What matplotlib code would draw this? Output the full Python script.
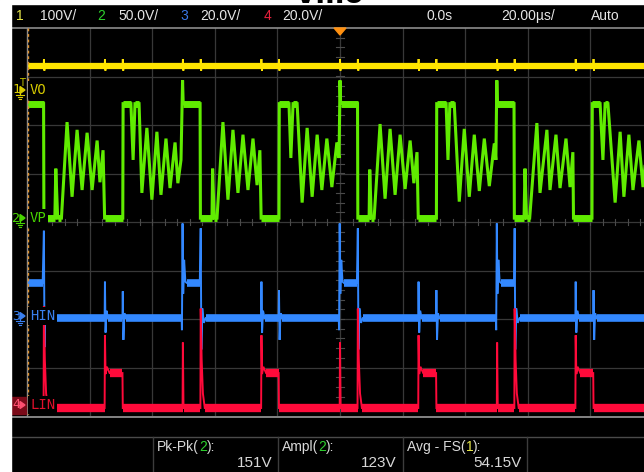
import matplotlib
matplotlib.use("Agg")
import matplotlib.pyplot as plt
from matplotlib.patches import Rectangle, Polygon
from matplotlib.lines import Line2D
import numpy as np

W, H = 644, 472

# ---- channel setup -------------------------------------------------------
ch_labels = ["VO", "VP", "HIN", "LIN"]
ch_scale = [100.0, 50.0, 20.0, 20.0]          # volts per division
ch_ground = [2.68, 0.08, -1.98, -3.835]       # ground level, divisions from centre
ch_color = ["#ffe500", "#60ec00", "#3388ff", "#ff0a3a"]

# ---- header / measurements -------------------------------------------------
hdr_vdiv = ["100V/", "50.0V/", "20.0V/", "20.0V/"]
hdr_delay = "0.0s"
hdr_tdiv = "20.00µs/"
hdr_mode = "Auto"
meas_names = ["Pk-Pk", "Ampl", "Avg - FS"]
meas_src = ["2", "2", "1"]
meas_vals = [151, 123, 54.15]
meas_units = ["151V", "123V", "54.15V"]

# ---- waveforms (time in µs, amplitude in V) -------------------------------
# VP : switching node
vp_t = [-100.0, -94.7, -94.6, -91.1, -90.8, -90.2, -89.0, -87.2, -85.6, -84.0,
        -82.4, -80.8, -79.2, -77.6, -76.7, -75.7, -75.2, -69.4, -69.3, -66.8,
        -66.1, -65.5, -64.2, -63.3, -61.7, -60.1, -58.5, -57.2, -55.6, -54.3,
        -52.7, -51.8, -50.8, -50.3,
        -50.1, -44.7, -44.6, -40.9, -40.7, -40.2, -39.3, -37.4, -35.8, -34.2,
        -32.6, -31.0, -29.4, -27.8, -26.5, -25.6, -25.2, -19.5, -19.4, -16.3,
        -15.7, -15.0, -13.7, -12.1, -10.5, -8.9, -7.3, -5.8, -4.2, -2.6,
        -1.0, -0.3, 0.0,
        0.2, 5.6, 5.7, 9.3, 9.5, 10.0, 10.9, 12.8, 14.4, 16.0,
        17.6, 19.2, 20.8, 22.4, 23.6, 24.6, 25.0, 30.8, 30.9, 33.9,
        34.5, 35.1, 36.5, 38.1, 39.7, 41.3, 42.9, 44.5, 46.1, 47.7,
        49.3, 49.8, 50.1,
        50.3, 55.6, 55.7, 58.8, 59.1, 59.6, 60.6, 62.9, 63.9, 66.1,
        67.1, 69.0, 70.3, 72.2, 73.5, 74.4, 74.6, 80.5, 80.6, 83.1,
        84.0, 84.7, 85.6, 87.9, 89.5, 90.7, 92.3, 93.6, 95.5, 96.8,
        98.1, 100.0]
vp_v = [118, 118, 0, 0, 51, 0, 0, 99, 22, 91,
        29, 88, 29, 80, 37, 70, 0, 0, 118, 118,
        60, 118, 118, 26, 93, 19, 89, 24, 82, 31,
        78, 36, 60, 142,
        118, 118, 0, 0, 51, 0, 0, 99, 19, 91,
        26, 86, 29, 82, 34, 70, 0, 0, 118, 118,
        62, 118, 118, 16, 93, 22, 86, 29, 82, 32,
        78, 62, 142,
        118, 118, 0, 0, 50, 0, 0, 97, 20, 92,
        24, 86, 30, 80, 36, 68, 0, 0, 118, 118,
        60, 118, 118, 17, 92, 22, 86, 28, 82, 33,
        77, 60, 142,
        118, 118, 0, 0, 51, 0, 0, 98, 26, 91,
        29, 86, 31, 82, 32, 68, 0, 0, 118, 118,
        60, 118, 118, 16, 89, 22, 86, 29, 80, 32,
        75, 40]

# HIN : high-side gate input
hin_t = [-100.0, -95.0, -94.6, -94.4, -94.1, -93.6, -93.0,
         -75.2, -75.1, -74.9, -74.6, -74.1,
         -69.5, -69.4, -69.2, -68.9, -68.4,
         -50.6, -50.5, -50.3, -50.1, -49.8, -49.4, -49.0, -44.8,
         -44.5, -44.3, -44.0, -43.5, -42.9,
         -25.2, -25.1, -24.9, -24.6, -24.1,
         -19.6, -19.5, -19.3, -19.0, -18.5,
         -0.4, -0.3, -0.1, 0.1, 0.4, 0.8, 1.2, 5.4,
         5.7, 5.9, 6.2, 6.7, 7.3,
         25.0, 25.1, 25.3, 25.6, 26.1,
         30.7, 30.8, 31.0, 31.3, 31.8,
         49.8, 49.9, 50.1, 50.3, 50.6, 51.0, 51.4, 55.6,
         55.8, 56.0, 56.3, 56.8, 57.4,
         75.2, 75.3, 75.5, 75.8, 76.3,
         80.9, 81.0, 81.2, 81.5, 82.0,
         100.0]
hin_v = [14.5, 14.5, 36, -12, 4, -2, 0,
         0, 15, -6, 3, 0,
         0, 11, -9, 2, 0,
         0, -5, 39, 10, 24, 15, 14.5, 14.5,
         37, -13, 4, -2, 0,
         0, 15, -6, 3, 0,
         0, 11.5, -9, 2, 0,
         0, -5, 39, 10, 24, 15, 14.5, 14.5,
         37, -13, 4, -2, 0,
         0, 15, -6, 3, 0,
         0, 11.5, -9, 2, 0,
         0, -5, 39, 10, 24, 15, 14.5, 14.5,
         37, -13, 4, -2, 0,
         0, 15, -6, 3, 0,
         0, 11.5, -9, 2, 0,
         0]

# LIN : low-side gate input
lin_t = [-100.0, -94.7, -94.6, -94.3, -93.9, -93.3,
         -75.2, -75.1, -74.9, -74.5, -73.6, -69.5, -69.4,
         -50.3, -50.2, -50.0,
         -44.6, -44.5, -44.2, -43.8, -43.2,
         -25.2, -25.1, -24.9, -24.5, -23.6, -19.6, -19.5,
         -0.1, 0.0, 0.2,
         5.6, 5.7, 6.0, 6.4, 7.0,
         25.0, 25.1, 25.3, 25.7, 26.6, 30.7, 30.8,
         50.1, 50.2, 50.4,
         55.7, 55.8, 56.1, 56.5, 57.1,
         75.2, 75.3, 75.5, 75.9, 76.8, 80.9, 81.0,
         100.0]
lin_v = [0, 0, 42, 20, 6, 0,
         0, 30, 14, 17, 14.4, 14.4, 0,
         0, 27, 0,
         0, 41, 20, 6, 0,
         0, 30, 14, 17, 14.4, 14.4, 0,
         0, 27, 0,
         0, 41, 20, 6, 0,
         0, 30, 14, 17, 14.4, 14.4, 0,
         0, 27, 0,
         0, 41, 20, 6, 0,
         0, 30, 14, 17, 14.4, 14.4, 0,
         0]

# VO : output, flat with small glitches at every switching edge
vo_level = 54.15
vo_edges = [-94.6, -75.1, -69.4, -50.2, -44.5, -25.1, -19.5, 0.0, 5.7,
            25.1, 30.8, 50.2, 55.8, 75.3, 81.0]
vo_glitch_hi = 68
vo_glitch_lo = 44

vo_t = [-100.0]
vo_v = [vo_level]
for e in vo_edges:
    vo_t += [e - 0.1, e, e + 0.15, e + 0.3]
    vo_v += [vo_level, vo_glitch_hi, vo_glitch_lo, vo_level]
vo_t.append(100.0)
vo_v.append(vo_level)


def fx(x):
    return x / W


def fy(y):
    return 1 - y / H


fig = plt.figure(figsize=(W / 100, H / 100), dpi=100, facecolor="black")

# scope screen: 10 x 8 divisions, the right edge runs past the picture
ax = fig.add_axes([fx(27), 1 - 416 / H, 626 / W, 388 / H])
ax.set_xlim(-100, 100)
ax.set_ylim(-4, 4)
ax.axis("off")

grid_c = "#383838"
for k in range(-80, 100, 20):
    ax.axvline(k, color=grid_c, lw=0.9, zorder=1)
for j in range(-3, 4):
    ax.axhline(j, color=grid_c, lw=0.9, zorder=1)
for tt in np.arange(-96, 100, 4):
    ax.plot([tt, tt], [-0.06, 0.06], color="#4a4a4a", lw=0.8, zorder=1)
for yy in np.arange(-3.8, 4, 0.2):
    ax.plot([-1.2, 1.2], [yy, yy], color="#4a4a4a", lw=0.8, zorder=1)


def draw_trace(t, v, ch, lw, band, z):
    y = [ch_ground[ch] + vi / ch_scale[ch] for vi in v]
    ax.plot(t, y, color=ch_color[ch], lw=lw, zorder=z, solid_joinstyle="miter")
    for i in range(len(t) - 1):
        if v[i] == v[i + 1] and t[i + 1] - t[i] > 0.3:
            ax.plot([t[i], t[i + 1]], [y[i], y[i]], color=ch_color[ch],
                    lw=band, solid_capstyle="butt", zorder=z)


draw_trace(vo_t, vo_v, 0, 1.3, 4.5, 5)
draw_trace(vp_t, vp_v, 1, 2.2, 5.0, 4)
draw_trace(hin_t, hin_v, 2, 1.4, 5.5, 3)
draw_trace(lin_t, lin_v, 3, 1.4, 6.0, 3)

# ---- frame lines ----------------------------------------------------------
def fline(x0, y0, x1, y1, color, lw=1.0, **kw):
    fig.add_artist(Line2D([fx(x0), fx(x1)], [fy(y0), fy(y1)], color=color,
                          lw=lw, zorder=4, **kw))


fline(11, 27.5, 644, 27.5, "#8c8c8c", 1.2)
fline(11, 416.5, 644, 416.5, "#9a9a9a", 1.2)
fline(26.8, 28, 26.8, 416, "#8c8c8c", 1.0)
fline(28.3, 28, 28.3, 416, "#e0902a", 1.0, dashes=(2, 2))
fline(11, 437, 644, 437, "#4a4a4a", 1.0)
for xs in [152.7, 277.7, 402.7, 526.7]:
    fline(xs, 437, xs, 472, "#3c3c3c", 1.0)

# trigger position marker
fig.add_artist(Polygon([(fx(334), fy(28)), (fx(346), fy(28)), (fx(340), fy(35))],
                       closed=True, color="#ff9010", zorder=6))

# white margins and clipped title
fig.add_artist(Rectangle((0, 0), fx(11), 1, color="white", zorder=8))
fig.add_artist(Rectangle((0, fy(4)), 1, 4 / H, color="white", zorder=8))
fig.text(fx(330), fy(3.3), "Vmo", ha="center", va="baseline", fontsize=20,
         weight="bold", color="black", zorder=9)

# ---- header ---------------------------------------------------------------
hfont = ["Liberation Sans Narrow", "Liberation Sans", "DejaVu Sans"]
hsize = 10
hdr_num_c = ["#e8e84a", "#2ed02e", "#3a78e8", "#e8203c"]
num_x = [16, 97, 180, 264]
vdiv_x = [40, 118, 200, 282]
for i in range(4):
    fig.text(fx(num_x[i]), fy(16), str(i + 1), color=hdr_num_c[i], fontsize=hsize,
             family=hfont, va="center", ha="left")
    fig.text(fx(vdiv_x[i]), fy(16), hdr_vdiv[i], color="#e6e6e6", fontsize=hsize,
             family=hfont, va="center", ha="left")
fig.text(fx(427), fy(16), hdr_delay, color="#e6e6e6", fontsize=hsize,
         family=hfont, va="center")
fig.text(fx(501), fy(16), hdr_tdiv, color="#e6e6e6", fontsize=hsize,
         family=hfont, va="center")
fig.text(fx(591), fy(16), hdr_mode, color="#e6e6e6", fontsize=hsize,
         family=hfont, va="center")

# ---- channel ground markers and names ------------------------------------
mark_y = [90, 218, 316, 405]
name_c = ["#d8cc00", "#48d400", "#3a80f0", "#e0102c"]
num_c = ["#d8cc00", "#48d400", "#3a80f0", "#ff5070"]
fig.add_artist(Rectangle((fx(11), fy(414)), 15 / W, 17 / H, color="#7a0a18", zorder=6))
for i in range(4):
    y = mark_y[i]
    fig.text(fx(12), fy(y), str(i + 1), color=num_c[i], fontsize=9.5,
             family="DejaVu Sans Mono", va="center", ha="left", zorder=7)
    fig.add_artist(Polygon([(fx(20), fy(y - 3.5)), (fx(20), fy(y + 3.5)),
                            (fx(25), fy(y))], closed=True, color=num_c[i], zorder=7))
    if i < 3:
        fline(20, y, 20, y + 5, num_c[i], 0.8)
        fline(16, y + 5, 24, y + 5, num_c[i], 0.8)
        fline(17.5, y + 7, 22.5, y + 7, num_c[i], 0.8)
        fline(19, y + 9, 21, y + 9, num_c[i], 0.8)
    fig.text(fx(30), fy(y), ch_labels[i], color=name_c[i], fontsize=10,
             family="DejaVu Sans Mono", va="center", ha="left", zorder=7,
             bbox=dict(facecolor="black", edgecolor="none", pad=1.2))

# trigger level marker
fig.text(fx(22), fy(83), "T", color="#c8c800", fontsize=7, ha="center",
         va="center", zorder=7)

# ---- measurement readouts --------------------------------------------------
lab_x = [157, 282, 407]
val_x = [272, 397, 522]
src_c = ["#2ed02e", "#2ed02e", "#e8e84a"]
for i in range(3):
    t1 = fig.text(fx(lab_x[i]), fy(447), meas_names[i] + "(", color="#d8d8d8",
                  fontsize=hsize, family=hfont, va="center", ha="left")
    fig.canvas.draw()
    bb = t1.get_window_extent()
    t2 = fig.text(bb.x1 / W, fy(447), meas_src[i], color=src_c[i], fontsize=hsize,
                  family=hfont, va="center", ha="left")
    fig.canvas.draw()
    bb2 = t2.get_window_extent()
    fig.text(bb2.x1 / W, fy(447), "):", color="#d8d8d8", fontsize=hsize,
             family=hfont, va="center", ha="left")
    fig.text(fx(val_x[i]), fy(463), meas_units[i], color="#d8d8d8",
             fontsize=11, family=hfont, va="center", ha="right")

fig.savefig("out.png", dpi=100, facecolor="black")
